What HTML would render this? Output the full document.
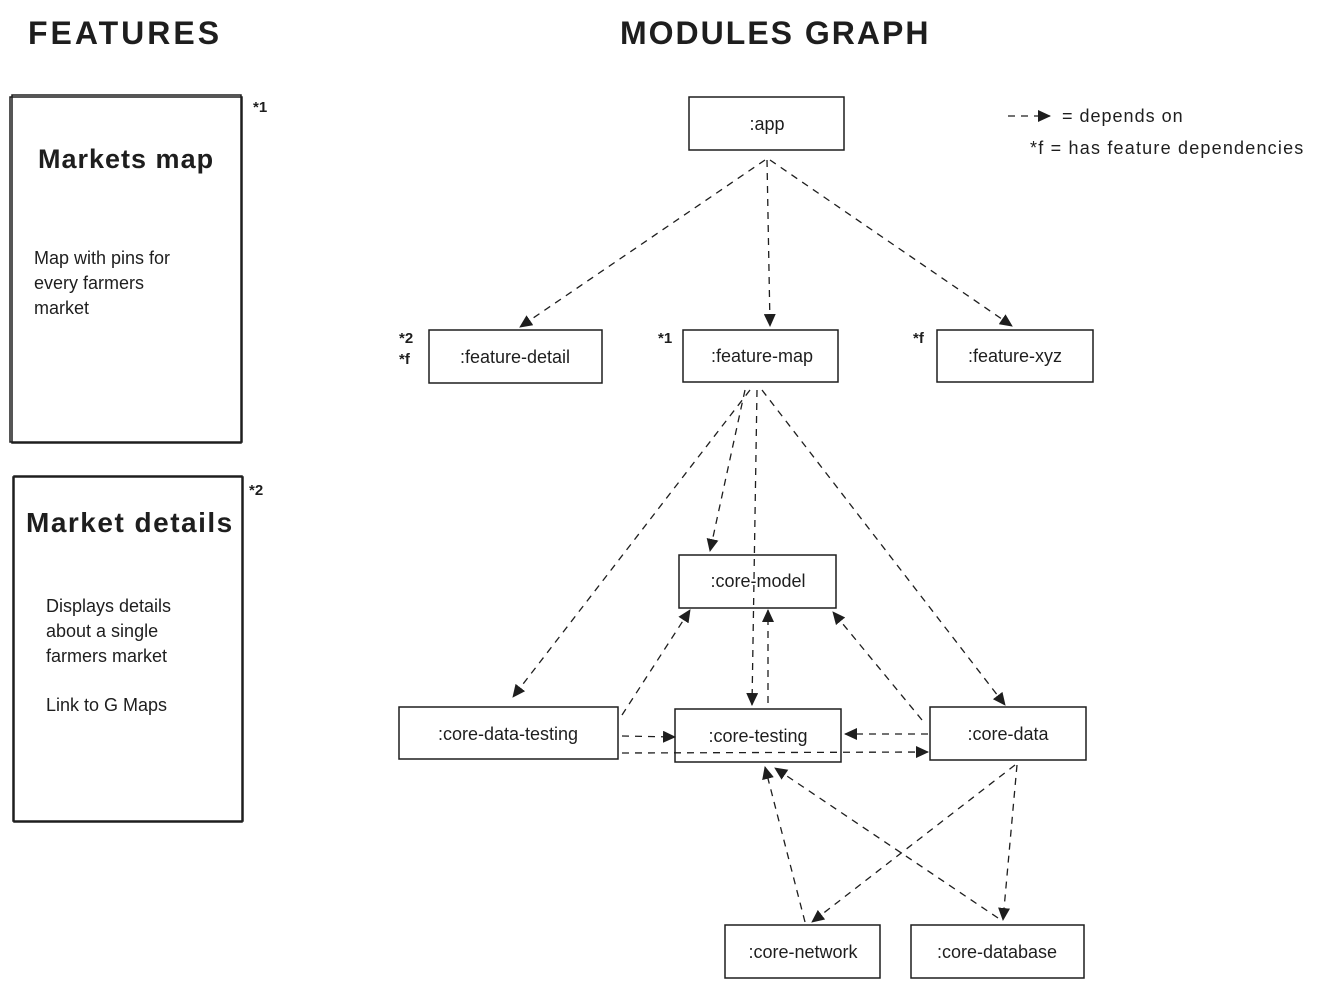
<!DOCTYPE html>
<html><head><meta charset="utf-8"><style>
html,body{margin:0;padding:0;background:#fff;}
svg{display:block;font-family:"Liberation Sans",sans-serif;}
.b{fill:none;stroke:#1e1e1e;stroke-width:1.5}
.d{fill:none;stroke:#1e1e1e;stroke-width:1.3;stroke-dasharray:7 6}
.n{font-size:18px;fill:#1e1e1e;text-anchor:middle}
.t{font-size:18px;fill:#1e1e1e}
.s{font-size:15px;fill:#1e1e1e;font-weight:bold}
</style></head><body>
<svg width="1344" height="988" viewBox="0 0 1344 988">
<defs><marker id="a" markerWidth="14" markerHeight="12" refX="12" refY="6" orient="auto" markerUnits="userSpaceOnUse"><path d="M0,0 L13,6 L0,12 z" fill="#1e1e1e"/></marker></defs>
<text x="28" y="44" font-size="32" font-weight="bold" fill="#1e1e1e" letter-spacing="3">FEATURES</text>
<text x="620" y="44" font-size="32" font-weight="bold" fill="#1e1e1e" letter-spacing="2">MODULES GRAPH</text>

<rect class="b" x="10" y="97" width="232" height="345"/>
<rect class="b" x="12" y="95" width="229" height="348" stroke-width="0.8"/>
<text x="253" y="112" class="s">*1</text>
<text x="38" y="168" font-size="27" font-weight="bold" fill="#1e1e1e" letter-spacing="1">Markets map</text>
<text x="34" y="264" class="t">Map with pins for</text>
<text x="34" y="289" class="t">every farmers</text>
<text x="34" y="314" class="t">market</text>

<rect class="b" x="13" y="477" width="230" height="344"/>
<rect class="b" x="14" y="476" width="228" height="346" stroke-width="0.8"/>
<text x="249" y="495" class="s">*2</text>
<text x="26" y="532" font-size="28" font-weight="bold" fill="#1e1e1e" letter-spacing="1.5">Market details</text>
<text x="46" y="612" class="t">Displays details</text>
<text x="46" y="637" class="t">about a single</text>
<text x="46" y="662" class="t">farmers market</text>
<text x="46" y="711" class="t">Link to G Maps</text>

<g>
<rect class="b" x="689" y="97" width="155" height="53"/><text class="n" x="767" y="130">:app</text>
<rect class="b" x="429" y="330" width="173" height="53"/><text class="n" x="515" y="363">:feature-detail</text>
<text x="399" y="343" class="s">*2</text><text x="399" y="364" class="s">*f</text>
<rect class="b" x="683" y="330" width="155" height="52"/><text class="n" x="762" y="362">:feature-map</text>
<text x="658" y="343" class="s">*1</text>
<rect class="b" x="937" y="330" width="156" height="52"/><text class="n" x="1015" y="362">:feature-xyz</text>
<text x="913" y="343" class="s">*f</text>
<rect class="b" x="679" y="555" width="157" height="53"/><text class="n" x="758" y="587">:core-model</text>
<rect class="b" x="399" y="707" width="219" height="52"/><text class="n" x="508" y="740">:core-data-testing</text>
<rect class="b" x="675" y="709" width="166" height="53"/><text class="n" x="758" y="742">:core-testing</text>
<rect class="b" x="930" y="707" width="156" height="53"/><text class="n" x="1008" y="740">:core-data</text>
<rect class="b" x="725" y="925" width="155" height="53"/><text class="n" x="803" y="958">:core-network</text>
<rect class="b" x="911" y="925" width="173" height="53"/><text class="n" x="997" y="958">:core-database</text>
</g>

<g marker-end="url(#a)">
<line class="d" x1="765" y1="160" x2="520" y2="327"/>
<line class="d" x1="767" y1="160" x2="770" y2="326"/>
<line class="d" x1="770" y1="160" x2="1012" y2="326"/>
<line class="d" x1="750" y1="390" x2="513" y2="697"/>
<line class="d" x1="745" y1="390" x2="710" y2="551"/>
<line class="d" x1="757" y1="390" x2="752" y2="705"/>
<line class="d" x1="762" y1="390" x2="1005" y2="705"/>
<line class="d" x1="768" y1="703" x2="768" y2="610"/>
<line class="d" x1="622" y1="715" x2="690" y2="610"/>
<line class="d" x1="922" y1="720" x2="833" y2="612"/>
<line class="d" x1="622" y1="736" x2="675" y2="737"/>
<line class="d" x1="622" y1="753" x2="928" y2="752"/>
<line class="d" x1="928" y1="734" x2="845" y2="734"/>
<line class="d" x1="1015" y1="765" x2="812" y2="922"/>
<line class="d" x1="1017" y1="765" x2="1003" y2="920"/>
<line class="d" x1="805" y1="922" x2="765" y2="767"/>
<line class="d" x1="998" y1="918" x2="775" y2="768"/>
<line class="d" x1="1008" y1="116" x2="1050" y2="116"/>
</g>
<text x="1062" y="122" class="t" letter-spacing="1">= depends on</text>
<text x="1030" y="154" class="t" letter-spacing="1.2">*f = has feature dependencies</text>
</svg>
</body></html>
